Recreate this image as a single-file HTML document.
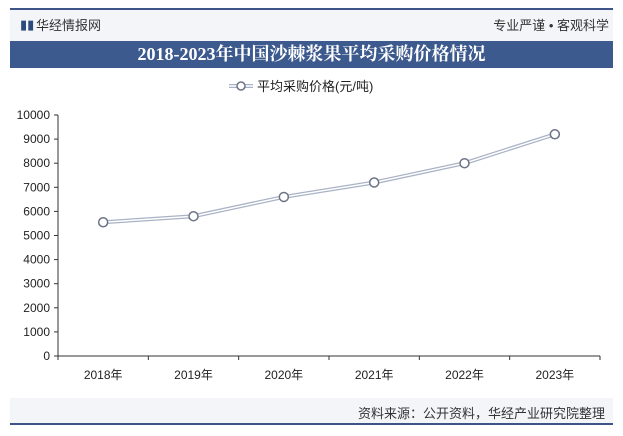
<!DOCTYPE html>
<html><head><meta charset="utf-8"><style>
body{margin:0;width:623px;height:436px;background:#fff;font-family:"Liberation Sans","Noto Sans CJK SC",sans-serif;overflow:hidden;position:relative}
.abs{position:absolute}
</style></head><body>
<div class="abs" style="left:10px;top:8px;width:603px;height:2px;background:#3d5488"></div>
<div class="abs" style="left:10px;top:10px;width:603px;height:31px;background:#f3f5f9"></div>
<div class="abs" style="left:20px;top:18px;font-size:13px;color:#2c4a7e;line-height:14px">&#9646;&#9646;</div>
<div class="abs" style="left:36px;top:15px;font-size:13px;color:#333">华经情报网</div>
<div class="abs" style="right:14px;top:15px;font-size:13px;color:#333">专业严谨 • 客观科学</div>
<div class="abs" style="left:10px;top:41px;width:603px;height:27px;background:#3d5a8e;color:#fff;font-family:'Liberation Serif','Noto Serif CJK SC',serif;font-weight:bold;font-size:18px;text-align:center;line-height:27px">2018-2023年中国沙棘浆果平均采购价格情况</div>
<div class="abs" style="left:10px;top:398px;width:603px;height:25px;background:#f3f5f9"></div>
<div class="abs" style="right:18px;top:403px;font-size:13px;color:#333">资料来源：公开资料，华经产业研究院整理</div>
<div class="abs" style="left:10px;top:423px;width:603px;height:2px;background:#3d5488"></div>
<svg class="abs" style="left:0;top:0" width="623" height="436" id="chart"></svg>
<script>
const categories=["2018年","2019年","2020年","2021年","2022年","2023年"];
const values=[5550,5800,6600,7200,8000,9200];
const yTicks=[0,1000,2000,3000,4000,5000,6000,7000,8000,9000,10000];
const svg=document.getElementById('chart');
const NS='http://www.w3.org/2000/svg';
const x0=58,x1=600,yB=356,yT=115,yMax=10000;
const band=(x1-x0)/categories.length;
const xs=i=>x0+band*(i+0.5);
const ys=v=>yB-(v/yMax)*(yB-yT);
function mk(t,a){const e=document.createElementNS(NS,t);for(const k in a)e.setAttribute(k,a[k]);svg.appendChild(e);return e;}
let e=mk('line',{x1:x0,y1:yB,x2:x1,y2:yB,stroke:'#333','stroke-width':1});


e=mk('line',{x1:x0,y1:yT,x2:x0,y2:yB,stroke:'#333','stroke-width':1});


yTicks.forEach(v=>{
 const t=mk('text',{x:x0-8,y:ys(v)+4,'text-anchor':'end','font-size':12,fill:'#222'});t.textContent=v;
 
 
 mk('line',{x1:x0-4,y1:ys(v),x2:x0,y2:ys(v),stroke:'#333'});
});
for(let i=0;i<=categories.length;i++) mk('line',{x1:x0+band*i,y1:yB,x2:x0+band*i,y2:yB+4,stroke:'#333'});
categories.forEach((c,i)=>{
 const t=mk('text',{x:xs(i),y:yB+23,'text-anchor':'middle','font-size':12,fill:'#222'});t.textContent=c;
 
 
});
const pts=values.map((v,i)=>xs(i)+','+ys(v)).join(' ');
let p=mk('polyline',{points:pts,fill:'none',stroke:'#aab3c6','stroke-width':4});


p=mk('polyline',{points:pts,fill:'none',stroke:'#fff','stroke-width':1.5});


values.forEach((v,i)=>{
 const c=mk('circle',{cx:xs(i),cy:ys(v),r:4.5,fill:'#fff',stroke:'#6b7385','stroke-width':1.5});
 
 
});
// legend
const lg=mk('line',{x1:229,y1:86,x2:253,y2:86,stroke:'#aab3c6','stroke-width':4});
mk('line',{x1:229,y1:86,x2:253,y2:86,stroke:'#fff','stroke-width':1.5});
const lc=mk('circle',{cx:241,cy:86,r:4,fill:'#fff',stroke:'#6b7385','stroke-width':1.5});


const lt=mk('text',{x:257,y:91,'font-size':13,fill:'#222'});lt.textContent='平均采购价格(元/吨)';


</script>
</body></html>
